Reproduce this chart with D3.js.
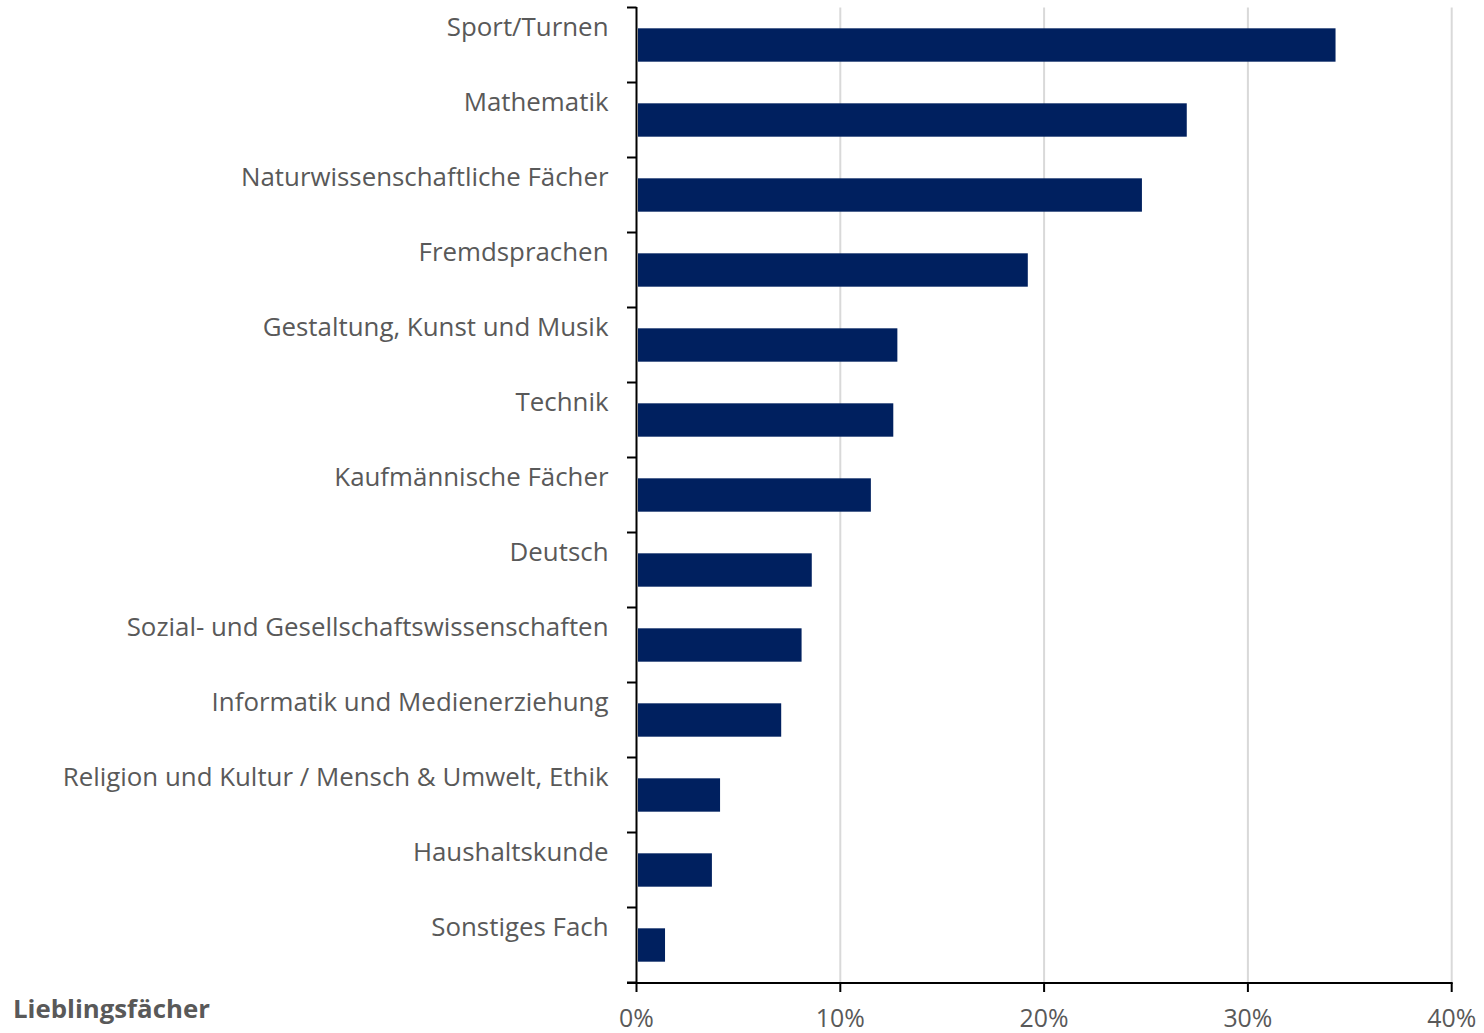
<!DOCTYPE html>
<html><head><meta charset="utf-8">
<script src="https://cdn.jsdelivr.net/npm/d3@7"></script>
<style>body{margin:0;background:#fff}</style>
</head><body>
<script>
const categories = ["Sport/Turnen","Mathematik","Naturwissenschaftliche Fächer","Fremdsprachen","Gestaltung, Kunst und Musik","Technik","Kaufmännische Fächer","Deutsch","Sozial- und Gesellschaftswissenschaften","Informatik und Medienerziehung","Religion und Kultur / Mensch & Umwelt, Ethik","Haushaltskunde","Sonstiges Fach"];
const values = [34.3,27.0,24.8,19.2,12.8,12.6,11.5,8.6,8.1,7.1,4.1,3.7,1.4];
const xTicks = [0,10,20,30,40];
const title = "Lieblingsfächer";

const W=1484,H=1033;
const FONT="'Open Sans', 'DejaVu Sans', sans-serif";
const svg=d3.select("body").append("svg").attr("width",W).attr("height",H);
const x=d3.scaleLinear().domain([0,40]).range([636.5,1451.7]);
const y=d3.scaleBand().domain(categories).range([7.5,982.5]).paddingInner(0.555).paddingOuter(0.2775);

function fit(str,weight,target){
  const t=svg.append("text").attr("font-family",FONT).attr("font-size",100).attr("font-weight",weight).text(str);
  const w=t.node().getComputedTextLength(); t.remove(); return 100*target/w;
}
const catSize=fit("Religion und Kultur / Mensch & Umwelt, Ethik","normal",546);
const tickSize=fit("10%","normal",49);
const titleSize=fit(title,"bold",197);

// gridlines
svg.append("g").selectAll("line").data(xTicks.slice(1)).join("line")
  .attr("x1",d=>x(d)).attr("x2",d=>x(d)).attr("y1",7.5).attr("y2",983)
  .attr("stroke","#d9d9d9").attr("stroke-width",2);

// bars
svg.append("g").selectAll("rect").data(values).join("rect")
  .attr("x",x(0)+1.5).attr("y",(d,i)=>y(categories[i]))
  .attr("width",d=>x(d)-x(0)-1.5).attr("height",y.bandwidth())
  .attr("fill","#00205f");

// y axis
const step=y.step();
const yg=svg.append("g");
yg.append("line").attr("x1",636.5).attr("x2",636.5).attr("y1",7).attr("y2",984).attr("stroke","#000").attr("stroke-width",2);
const bounds=d3.range(categories.length+1).map(i=>7.5+i*step);
yg.selectAll("line.t").data(bounds).join("line").attr("class","t")
  .attr("x1",627).attr("x2",636.5).attr("y1",d=>d).attr("y2",d=>d).attr("stroke","#000").attr("stroke-width",2);
yg.selectAll("text").data(categories).join("text")
  .attr("x",608.5).attr("y",d=>y(d)-y.step()*y.paddingInner()/2+28).attr("text-anchor","end")
  .attr("font-family",FONT).attr("font-size",catSize).attr("fill","#595959").text(d=>d);

// x axis
const xg=svg.append("g");
xg.append("line").attr("x1",627).attr("x2",1452.7).attr("y1",983).attr("y2",983).attr("stroke","#000").attr("stroke-width",2);
xg.selectAll("line.t").data(xTicks).join("line").attr("class","t")
  .attr("x1",d=>x(d)).attr("x2",d=>x(d)).attr("y1",983).attr("y2",992).attr("stroke","#000").attr("stroke-width",2);
xg.selectAll("text").data(xTicks).join("text")
  .attr("x",d=>x(d)).attr("y",1027).attr("text-anchor","middle")
  .attr("font-family",FONT).attr("font-size",tickSize).attr("fill","#595959").text(d=>d+"%");

svg.append("text").attr("x",13).attr("y",1018).attr("font-family",FONT).attr("font-weight","bold")
  .attr("font-size",titleSize).attr("fill","#595959").text(title);
</script>
</body></html>
